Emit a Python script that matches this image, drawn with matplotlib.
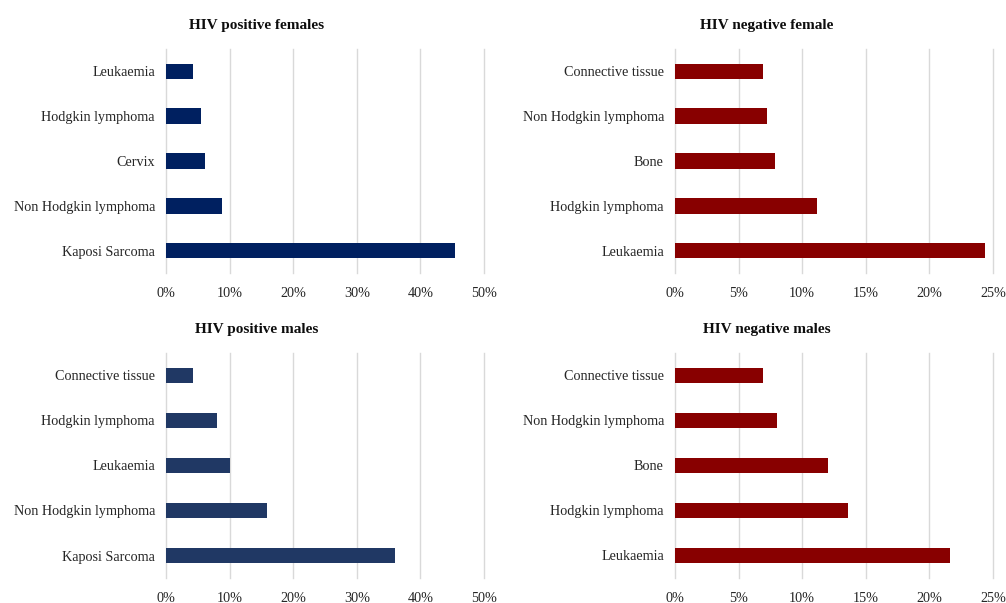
import matplotlib
matplotlib.use("Agg")
import matplotlib.pyplot as plt
from matplotlib.ticker import FuncFormatter

plt.rcParams['font.family'] = ['Liberation Serif', 'DejaVu Serif']

# Données (pourcentages, de haut en bas)
pos_f_labels = ['Leukaemia', 'Hodgkin lymphoma', 'Cervix', 'Non Hodgkin lymphoma', 'Kaposi Sarcoma']
pos_f_values = [4.2, 5.5, 6.1, 8.8, 45.5]

neg_f_labels = ['Connective tissue', 'Non Hodgkin lymphoma', 'Bone', 'Hodgkin lymphoma', 'Leukaemia']
neg_f_values = [6.9, 7.2, 7.9, 11.2, 24.4]

pos_m_labels = ['Connective tissue', 'Hodgkin lymphoma', 'Leukaemia', 'Non Hodgkin lymphoma', 'Kaposi Sarcoma']
pos_m_values = [4.2, 8.0, 10.0, 15.9, 36.0]

neg_m_labels = ['Connective tissue', 'Non Hodgkin lymphoma', 'Bone', 'Hodgkin lymphoma', 'Leukaemia']
neg_m_values = [6.9, 8.0, 12.0, 13.6, 21.6]

W, H = 1006, 603
fig = plt.figure(figsize=(W / 100, H / 100), dpi=100)


def panel(left, top, right, bottom, labels, values, color, xmax, step, title, title_x, title_y):
    ax = fig.add_axes([left / W, 1 - bottom / H, (right - left) / W, (bottom - top) / H])
    y = list(range(len(labels)))
    ax.barh(y, values, height=0.35, color=color)
    ax.set_ylim(len(labels) - 0.5, -0.5)
    ax.set_yticks(y)
    ax.set_yticklabels(labels, fontsize=10.2, color='#262626')
    ax.set_xlim(0, xmax)
    ax.set_xticks([i * step for i in range(int(round(xmax / step)) + 1)])
    ax.xaxis.set_major_formatter(FuncFormatter(lambda v, p: f'{v:.0f}%'))
    ax.tick_params(axis='x', labelsize=10.2, length=0, pad=10, labelcolor='#262626')
    ax.tick_params(axis='y', length=0, pad=8)
    ax.grid(axis='x', color='#d9d9d9', linewidth=1.0)
    for gl in ax.get_xgridlines():
        gl.set_clip_on(False)
    ax.set_axisbelow(True)
    for s in ax.spines.values():
        s.set_visible(False)
    fig.text(title_x / W, 1 - title_y / H, title, ha='center', va='center',
             fontsize=11, fontweight='bold', color='#0d0d0d')


panel(166, 49, 484, 273, pos_f_labels, pos_f_values, '#002060', 50, 10,
      'HIV positive females', 257, 26)
panel(675, 49, 993, 273, neg_f_labels, neg_f_values, '#880000', 25, 5,
      'HIV negative female', 767, 26)
panel(166, 353, 484, 578, pos_m_labels, pos_m_values, '#203864', 50, 10,
      'HIV positive males', 257, 330)
panel(675, 353, 993, 578, neg_m_labels, neg_m_values, '#880000', 25, 5,
      'HIV negative males', 767, 330)

fig.savefig('out.png', dpi=100, facecolor='white')
